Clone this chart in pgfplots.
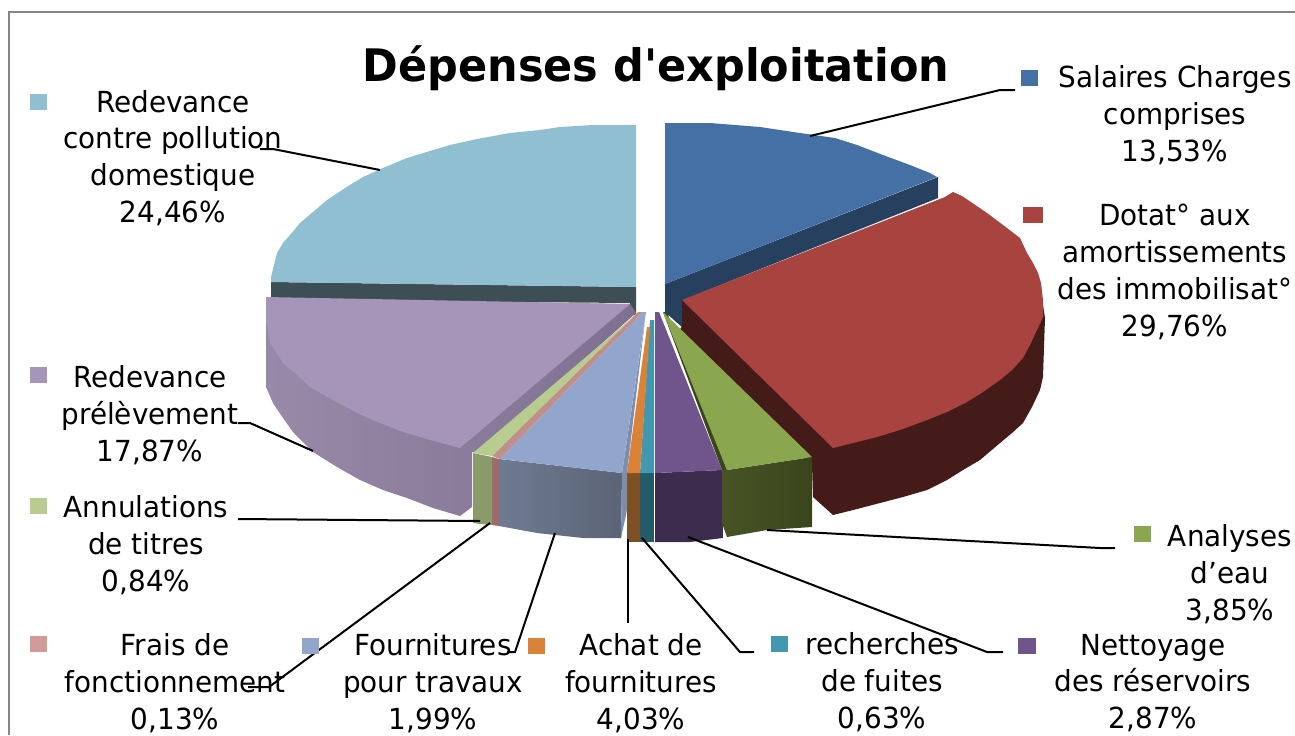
\documentclass[border=0pt]{standalone}
\usepackage{fontspec}
\setmainfont{DejaVu Sans}[FakeStretch=0.96, Ligatures=TeXOff]
\usepackage{pgfplots}
\pgfplotsset{compat=1.18}
\definecolor{blueT}{HTML}{4570A6}\definecolor{blueS}{HTML}{27405F}
\definecolor{redT}{HTML}{A84340}\definecolor{redS}{HTML}{451B19}
\definecolor{greenT}{HTML}{8AA64E}\definecolor{greenS}{HTML}{3B451C}
\definecolor{purpT}{HTML}{6F558C}\definecolor{purpS}{HTML}{3D2C4E}
\definecolor{tealT}{HTML}{4298B0}\definecolor{tealS}{HTML}{255A68}
\definecolor{oranT}{HTML}{D98238}\definecolor{oranS}{HTML}{7D5025}
\definecolor{periT}{HTML}{92A6CD}\definecolor{pinkT}{HTML}{C08F8C}\definecolor{pinkS}{HTML}{9B6A6A}\definecolor{pinkK}{HTML}{D39A9A}
\definecolor{limeT}{HTML}{B8CC90}\definecolor{limeS}{HTML}{8A9A6B}
\definecolor{lilaT}{HTML}{A695B8}\definecolor{lilaB}{HTML}{7E7090}
\definecolor{skyT}{HTML}{90BFD1}\definecolor{skyS}{HTML}{3D4F55}
\tikzset{
    lab/.style={align=center, font=\fontsize{14.5}{18.4}\selectfont, inner sep=0pt},
    lead/.style={black, line width=1pt},
    pie/.style={draw=none},
}
\begin{document}
\begin{tikzpicture}
\path[use as bounding box] (0,0) rectangle (647.5pt,367.5pt);
\begin{axis}[
    scale only axis, width=647.5pt, height=367.5pt,
    xmin=0, xmax=1295, ymin=0, ymax=735, y dir=reverse,
    hide axis, clip=true,
]
% cadre
\addplot[color=gray!95, line width=0.8pt] coordinates {(9,735) (9,12) (1295,12)};

% Redevance contre pollution
\addplot[pie, fill=skyS] coordinates {(271,282) (636,287) (636,315) (630,315) (630,303) (271,300)};
\addplot[pie, fill=skyT] coordinates {(271,282) (271,277) (277,253) (283,243) (290,235) (300,223) (313,212) (327,200) (345,188) (363,177) (383,168) (407,158) (430,151) (450,145) (477,139) (510,133) (540,130) (560,127) (593,125) (636,125) (636,287)};
% Redevance prelevement
\addplot[pie, left color=lilaT!92!black, right color=lilaB] coordinates {(266,300) (266,387) (273,403) (283,418) (293,432) (313,452) (337,467) (360,480) (383,490) (407,498) (433,508) (460,516) (472,507) (472,452) (480,452) (636,313) (630,304)};
\addplot[pie, fill=lilaT] coordinates {(266,297) (630,304) (460,448) (430,440) (403,432) (380,423) (357,413) (333,400) (310,387) (297,375) (283,363) (270,343) (266,320)};

% Salaires
\addplot[pie, fill=blueS] coordinates {(665,284) (938,177) (938,198) (683,300) (683,328) (665,312)};
\addplot[pie, fill=blueT] coordinates {(665,123) (710,123) (760,127) (800,133) (835,138) (857,145) (883,155) (910,165) (930,173) (937,177) (665,284)};
% Dotat
\addplot[pie, fill=redS] coordinates {(682,300) (1043,305) (1045,318) (1043,377) (1040,390) (1032,407) (1023,423) (1012,433) (1000,443) (980,460) (963,470) (947,480) (927,490) (903,497) (880,503) (857,509) (833,515) (813,497) (812,465) (678,333) (682,326)};
\addplot[pie, fill=redT] coordinates {(682,300) (945,197) (953,192) (962,196) (987,213) (1003,225) (1020,238) (1027,253) (1033,263) (1038,273) (1041,283) (1043,300) (1043,317) (1037,330) (1030,345) (1023,358) (1012,370) (1000,380) (983,392) (967,402) (947,412) (927,420) (900,430) (877,437) (853,443) (833,448)};

% Nettoyage
\addplot[pie, fill=purpS] coordinates {(655,473) (722,470) (723,538) (690,542) (655,542)};
\addplot[pie, fill=purpT] coordinates {(655,312) (659,312) (722,470) (655,473)};
% Recherches de fuites
\addplot[pie, fill=tealS] coordinates {(640,473) (654,473) (654,542) (640,542)};
\addplot[pie, fill=tealT] coordinates {(650,320) (654,320) (654,473) (640,473)};
% Achat de fournitures
\addplot[pie, fill=oranS] coordinates {(627,473) (640,473) (640,542) (627,542)};
\addplot[pie, fill=oranT] coordinates {(647,327) (650,327) (640,473) (627,473)};
% Fournitures pour travaux
\addplot[pie, left color=periT!65!black!90, right color=periT!50!black!90] coordinates {(499,459) (622,473) (621,538) (583,538) (537,533) (499,526)};
\addplot[pie, fill=periT!85!black] coordinates {(645,320) (627,473) (627,510) (621,538) (622,473)};
\addplot[pie, fill=periT] coordinates {(643,312) (646,312) (622,473) (500,459)};
% Frais de fonctionnement
\addplot[pie, fill=pinkS] coordinates {(492,457) (499,459) (499,526) (492,525)};
\addplot[pie, fill=pinkT] coordinates {(638,312) (643,312) (500,459) (492,456)};
% Annulations de titres
\addplot[pie, fill=limeS] coordinates {(473,453) (492,457) (492,525) (480,524) (473,523)};
\addplot[pie, fill=limeT] coordinates {(633,317) (638,312) (492,456) (473,453)};
% Analyses d'eau
\addplot[pie, fill=greenS] coordinates {(663,312) (667,312) (727,470) (722,470)};
\addplot[pie, left color=greenS!85!greenT, right color=greenS] coordinates {(722,470) (727,470) (812,457) (812,527) (767,530) (727,537) (722,523)};
\addplot[pie, fill=greenT] coordinates {(663,312) (812,457) (727,470)};

% filets de repere
\addplot[lead] coordinates {(810,136) (1000,90) (1015,90)};
\addplot[lead] coordinates {(380,170) (273,149) (260,149)};
\addplot[lead] coordinates {(313,451) (250,423) (238,423)};
\addplot[lead] coordinates {(480,521) (238,519)};
\addplot[lead] coordinates {(490,523) (269,687) (248,687)};
\addplot[lead] coordinates {(555,533) (515,652) (507,652)};
\addplot[lead] coordinates {(628,539) (628,623)};
\addplot[lead] coordinates {(642,538) (740,652) (754,652)};
\addplot[lead] coordinates {(688,537) (987,652) (1003,652)};
\addplot[lead] coordinates {(767,530) (1100,548) (1115,548)};

% cles
\addplot[pie, fill=skyT] coordinates {(30,94) (47,94) (47,110) (30,110)};
\addplot[pie, fill=blueT] coordinates {(1021,70) (1038,70) (1038,86) (1021,86)};
\addplot[pie, fill=redT] coordinates {(1023,207) (1043,207) (1043,223) (1023,223)};
\addplot[pie, fill=lilaT] coordinates {(30,367) (47,367) (47,383) (30,383)};
\addplot[pie, fill=limeT] coordinates {(30,498) (47,498) (47,514) (30,514)};
\addplot[pie, fill=pinkK] coordinates {(30,636) (47,636) (47,652) (30,652)};
\addplot[pie, fill=periT] coordinates {(302,638) (319,638) (319,654) (302,654)};
\addplot[pie, fill=oranT] coordinates {(528,638) (545,638) (545,654) (528,654)};
\addplot[pie, fill=tealT] coordinates {(771,636) (788,636) (788,652) (771,652)};
\addplot[pie, fill=purpT] coordinates {(1018,638) (1036,638) (1036,654) (1018,654)};
\addplot[pie, fill=greenT] coordinates {(1134,526) (1151,526) (1151,542) (1134,542)};

% textes
\node[font=\fontsize{22.4}{28}\bfseries\selectfont, inner sep=0pt] at (axis cs:656,68) {Dépenses d'exploitation};
\node[lab] at (axis cs:173,158) {Redevance\\contre pollution\\domestique\\24,46\%};
\node[lab] at (axis cs:1175,115) {Salaires Charges\\comprises\\13,53\%};
\node[lab] at (axis cs:1175,272) {Dotat° aux\\amortissements\\des immobilisat°\\29,76\%};
\node[lab] at (axis cs:150,415) {Redevance\\prélèvement\\17,87\%};
\node[lab] at (axis cs:146,545) {Annulations\\de titres\\0,84\%};
\node[lab] at (axis cs:175,683) {Frais de\\fonctionnement\\0,13\%};
\node[lab] at (axis cs:433,683) {Fournitures\\pour travaux\\1,99\%};
\node[lab] at (axis cs:641,683) {Achat de\\fournitures\\4,03\%};
\node[lab] at (axis cs:882,682) {recherches\\de fuites\\0,63\%};
\node[lab] at (axis cs:1153,683) {Nettoyage\\des réservoirs\\2,87\%};
\node[lab] at (axis cs:1230,574) {Analyses\\d’eau\\3,85\%};
\end{axis}
\end{tikzpicture}
\end{document}
